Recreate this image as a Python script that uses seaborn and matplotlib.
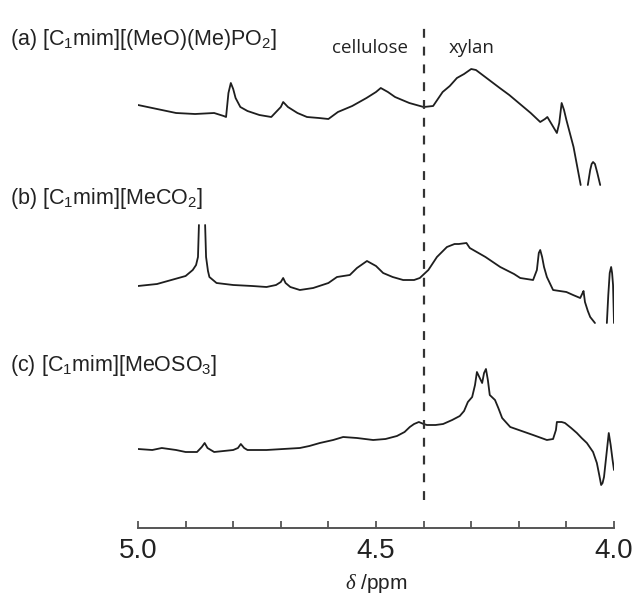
import pandas as pd
import seaborn as sns
import matplotlib.pyplot as plt

# Stacked 1H NMR traces (intensity in arbitrary units)
LABELS = [r'(a) [C$_{\mathregular{1}}$mim][(MeO)(Me)PO$_{\mathregular{2}}$]',
          r'(b) [C$_{\mathregular{1}}$mim][MeCO$_{\mathregular{2}}$]',
          r'(c) [C$_{\mathregular{1}}$mim][MeOSO$_{\mathregular{3}}$]']
OFFSETS = [343, 205, 43]

# (a) - clipped at the bottom near 4.07 ppm, so two pieces
a_ppm_1 = [5.00, 4.96, 4.92, 4.88, 4.84, 4.82, 4.815, 4.81, 4.805, 4.80, 4.795, 4.785, 4.77,
           4.745, 4.72, 4.70, 4.695, 4.685, 4.665, 4.645, 4.62, 4.60, 4.58, 4.55, 4.52, 4.50,
           4.49, 4.475, 4.46, 4.43, 4.40, 4.38, 4.36, 4.345, 4.33, 4.315, 4.30, 4.29, 4.265,
           4.24, 4.22, 4.20, 4.175, 4.155, 4.145, 4.14, 4.13, 4.12, 4.115, 4.11, 4.105, 4.10,
           4.085, 4.07]
a_int_1 = [80, 76, 72, 71, 72, 69, 68, 92, 102, 96, 87, 78, 74,
           70, 68, 78, 83, 78, 72, 68, 67, 66, 73, 79, 87, 93,
           97, 93, 88, 82, 78, 79, 93, 99, 107, 111, 116, 115, 106,
           97, 90, 82, 72, 63, 66, 68, 60, 52, 62, 82, 75, 65,
           38, 0]
a_ppm_2 = [4.055, 4.05, 4.047, 4.044, 4.04, 4.035, 4.029]
a_int_2 = [0, 15, 21, 23, 21, 12, 0]

# (b) - main peak near 4.87 ppm runs off the top, end pieces clipped at the bottom
b_ppm_1 = [5.00, 4.96, 4.93, 4.90, 4.885, 4.878, 4.874, 4.872]
b_int_1 = [37, 39, 43, 47, 53, 58, 66, 98]
b_ppm_2 = [4.859, 4.857, 4.853, 4.85, 4.835, 4.80, 4.76, 4.73, 4.71, 4.70, 4.695, 4.69,
           4.68, 4.66, 4.632, 4.60, 4.582, 4.555, 4.54, 4.519, 4.50, 4.485, 4.465, 4.443,
           4.42, 4.408, 4.39, 4.372, 4.351, 4.335, 4.326, 4.31, 4.303, 4.27, 4.239, 4.21,
           4.197, 4.17, 4.162, 4.158, 4.155, 4.151, 4.147, 4.141, 4.128, 4.10, 4.086, 4.071,
           4.066, 4.064, 4.061, 4.055, 4.05, 4.045, 4.04]
b_int_2 = [98, 66, 52, 46, 40, 38, 37, 36, 38, 41, 45, 40,
           36, 33, 35, 40, 46, 48, 55, 62, 57, 50, 46, 43,
           43, 45, 53, 66, 76, 79, 79, 80, 75, 66, 56, 49,
           45, 43, 53, 70, 73, 66, 56, 46, 33, 31, 28, 25,
           30, 32, 21, 12, 6, 3, 0]
b_ppm_3 = [4.015, 4.012, 4.009, 4.006, 4.004, 4.002, 4.0]
b_int_3 = [0, 28, 50, 56, 50, 38, 0]

# (c)
c_ppm = [5.00, 4.97, 4.95, 4.92, 4.90, 4.876, 4.866, 4.86, 4.854, 4.84, 4.82, 4.80, 4.79,
         4.784, 4.777, 4.77, 4.73, 4.695, 4.66, 4.64, 4.618, 4.59, 4.569, 4.54, 4.506, 4.48,
         4.456, 4.44, 4.429, 4.42, 4.41, 4.40, 4.393, 4.375, 4.359, 4.34, 4.324, 4.315,
         4.307, 4.298, 4.292, 4.288, 4.282, 4.277, 4.273, 4.269, 4.265, 4.261, 4.25, 4.243,
         4.235, 4.218, 4.20, 4.17, 4.141, 4.128, 4.122, 4.12, 4.11, 4.103, 4.09, 4.078,
         4.068, 4.057, 4.044, 4.036, 4.031, 4.027, 4.024, 4.021, 4.016, 4.011, 4.007, 4.003,
         4.0]
c_int = [36, 35, 37, 35, 33, 33, 38, 42, 37, 33, 34, 35, 37,
         41, 37, 35, 35, 36, 37, 39, 42, 45, 48, 47, 45, 46,
         49, 53, 58, 61, 63, 61, 60, 60, 61, 65, 69, 74,
         83, 88, 100, 113, 107, 102, 112, 116, 105, 90, 85, 77,
         67, 58, 55, 50, 45, 46, 55, 63, 63, 62, 57, 52,
         47, 42, 33, 22, 10, 0, 2, 8, 30, 52, 40, 25,
         15]

DIVIDER_PPM = 4.4
REGIONS = ['cellulose', 'xylan']
REGION_PPM = [4.513, 4.30]

pieces = [('a1', a_ppm_1, a_int_1, OFFSETS[0]), ('a2', a_ppm_2, a_int_2, OFFSETS[0]),
          ('b1', b_ppm_1, b_int_1, OFFSETS[1]), ('b2', b_ppm_2, b_int_2, OFFSETS[1]),
          ('b3', b_ppm_3, b_int_3, OFFSETS[1]), ('c1', c_ppm, c_int, OFFSETS[2])]
rows = []
for seg, ppm, inten, off in pieces:
    for p, v in zip(ppm, inten):
        rows.append({'seg': seg, 'ppm': p, 'y': v + off})
df = pd.DataFrame(rows)

sns.set_style('white')
plt.rcParams['font.family'] = ['Liberation Sans', 'DejaVu Sans']
plt.rcParams['mathtext.fontset'] = 'custom'
plt.rcParams['mathtext.rm'] = 'Liberation Sans'
plt.rcParams['mathtext.it'] = 'Liberation Serif:italic'

fig = plt.figure(figsize=(6.36, 6.0), dpi=100)
ax = fig.add_axes([138 / 636, 72 / 600, 476 / 636, 528 / 600])

sns.lineplot(data=df, x='ppm', y='y', units='seg', estimator=None, sort=False,
             color='#1e1e1e', linewidth=1.3, ax=ax, legend=False)

# dividing line between the cellulose and xylan regions
ax.vlines(DIVIDER_PPM, 28, 503, colors='#333333', linestyles=(0, (4, 4)), linewidth=1.6)
for name, p in zip(REGIONS, REGION_PPM):
    ax.text(p, 480, name, ha='center', va='center', fontsize=13.5,
            family=['Open Sans', 'DejaVu Sans'], color='#222222')

for lab, yfig in zip(LABELS, [40, 198, 365]):
    fig.text(10 / 636, 1 - yfig / 600, lab, ha='left', va='center', fontsize=15.5, color='#222222')

ax.set_xlim(5.0, 4.0)
ax.set_ylim(0, 528)
ax.set_xticks([5.0, 4.5, 4.0])
ax.set_xticklabels(['5.0', '4.5', '4.0'])
ax.set_xticks([4.9, 4.8, 4.7, 4.6, 4.4, 4.3, 4.2, 4.1], minor=True)
ax.tick_params(axis='x', which='both', direction='in', length=5, width=1.3,
               color='#555555', bottom=True, labelsize=20, pad=7, labelcolor='#222222')
ax.set_yticks([])
for s in ['left', 'right', 'top']:
    ax.spines[s].set_visible(False)
ax.spines['bottom'].set_color('#555555')
ax.spines['bottom'].set_linewidth(1.4)
ax.set_xlabel(r'$\delta$ /ppm', fontsize=15, color='#222222', labelpad=6)
ax.set_ylabel('')

fig.savefig('out.png', dpi=100)
